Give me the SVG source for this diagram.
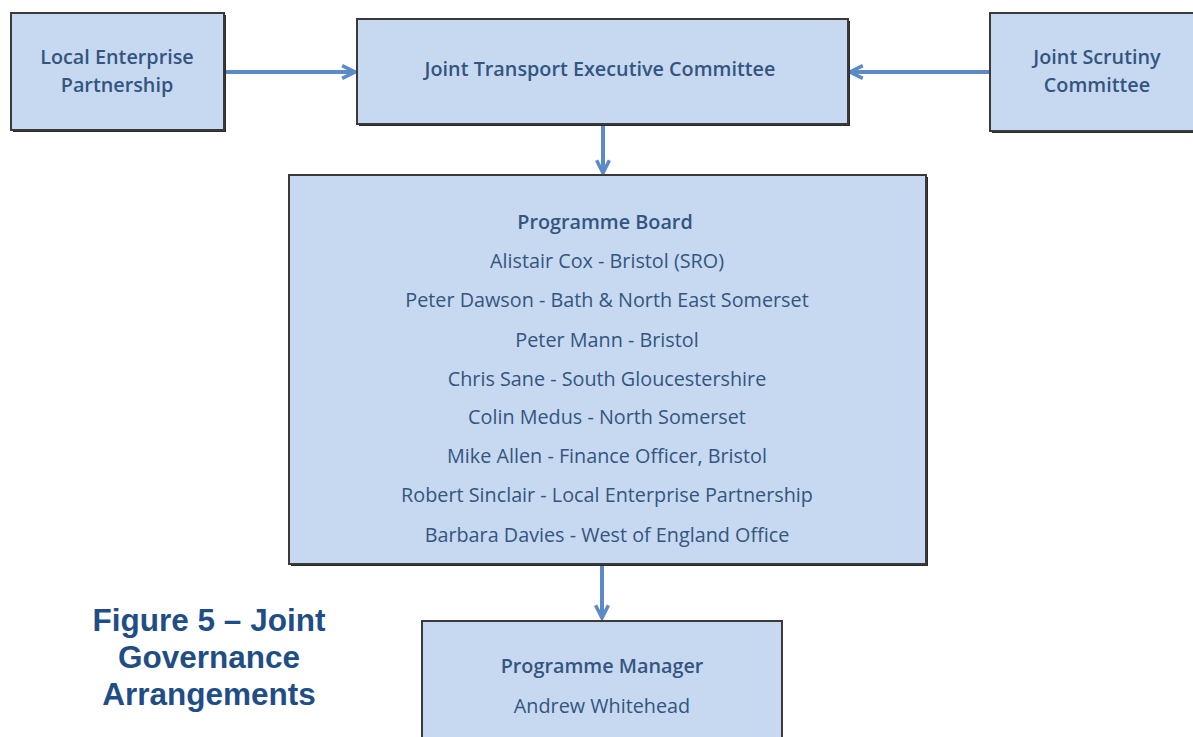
<svg xmlns="http://www.w3.org/2000/svg" width="1193" height="737" viewBox="0 0 1193 737">
  <defs>
    <style>
      .box { fill: #c6d9f1; stroke: #3a3a3a; stroke-width: 2; }
      .shadow { fill: #2b2b2b; }
      .t { font-family: "Open Sans", "Noto Sans", sans-serif; fill: #34557f; text-anchor: middle; font-size: 19.8px; }
      .b { font-weight: 600; }
      .conn { stroke: #5b8ac6; stroke-width: 4; fill: none; }
      .cap { font-family: "Liberation Sans", Arial, sans-serif; font-weight: bold; font-size: 31.5px; fill: #1f4e86; text-anchor: middle; }
    </style>
    <marker id="arr" viewBox="0 0 10 10" refX="9" refY="5" markerWidth="4" markerHeight="4" orient="auto" markerUnits="strokeWidth">
      <path d="M1,1 L9,5 L1,9" fill="none" stroke="#5b8ac6" stroke-width="2.2"/>
    </marker>
  </defs>
  <rect width="1193" height="737" fill="#ffffff"/>

  <!-- connectors -->
  <g id="connectors">
    <line class="conn" x1="225" y1="72" x2="355" y2="72" marker-end="url(#arr)"/>
    <line class="conn" x1="990" y1="72" x2="850" y2="72" marker-end="url(#arr)"/>
    <line class="conn" x1="603" y1="125" x2="603" y2="173" marker-end="url(#arr)"/>
    <line class="conn" x1="602" y1="566" x2="602" y2="618" marker-end="url(#arr)"/>
  </g>

  <!-- Local Enterprise Partnership -->
  <g id="lep">
    <rect class="shadow" x="13" y="15" width="213" height="117"/>
    <rect class="box" x="11" y="13" width="213" height="117"/>
    <text class="t b" x="117" y="64">Local Enterprise</text>
    <text class="t b" x="117" y="92">Partnership</text>
  </g>

  <!-- Joint Transport Executive Committee -->
  <g id="jtec">
    <rect class="shadow" x="359" y="21" width="491" height="105"/>
    <rect class="box" x="357" y="19" width="491" height="105"/>
    <text class="t b" x="600" y="76">Joint Transport Executive Committee</text>
  </g>

  <!-- Joint Scrutiny Committee -->
  <g id="jsc">
    <rect class="shadow" x="992" y="15" width="210" height="118"/>
    <rect class="box" x="990" y="13" width="210" height="118"/>
    <text class="t b" x="1097" y="64">Joint Scrutiny</text>
    <text class="t b" x="1097" y="92">Committee</text>
  </g>

  <!-- Programme Board -->
  <g id="board">
    <rect class="shadow" x="291" y="177" width="637" height="389"/>
    <rect class="box" x="289" y="175" width="637" height="389"/>
    <text class="t b" x="605" y="229">Programme Board</text>
    <text class="t" x="607" y="268">Alistair Cox - Bristol (SRO)</text>
    <text class="t" x="607" y="307">Peter Dawson - Bath &amp; North East Somerset</text>
    <text class="t" x="607" y="347">Peter Mann - Bristol</text>
    <text class="t" x="607" y="386">Chris Sane - South Gloucestershire</text>
    <text class="t" x="607" y="424">Colin Medus - North Somerset</text>
    <text class="t" x="607" y="463">Mike Allen - Finance Officer, Bristol</text>
    <text class="t" x="607" y="502">Robert Sinclair - Local Enterprise Partnership</text>
    <text class="t" x="607" y="542">Barbara Davies - West of England Office</text>
  </g>

  <!-- Programme Manager -->
  <g id="manager">
    <rect class="box" x="422" y="621" width="360" height="130"/>
    <text class="t b" x="602" y="673">Programme Manager</text>
    <text class="t" x="602" y="713">Andrew Whitehead</text>
  </g>

  <!-- caption -->
  <g id="caption">
    <text class="cap" x="209" y="631">Figure 5 – Joint</text>
    <text class="cap" x="209" y="668">Governance</text>
    <text class="cap" x="209" y="705">Arrangements</text>
  </g>
</svg>
